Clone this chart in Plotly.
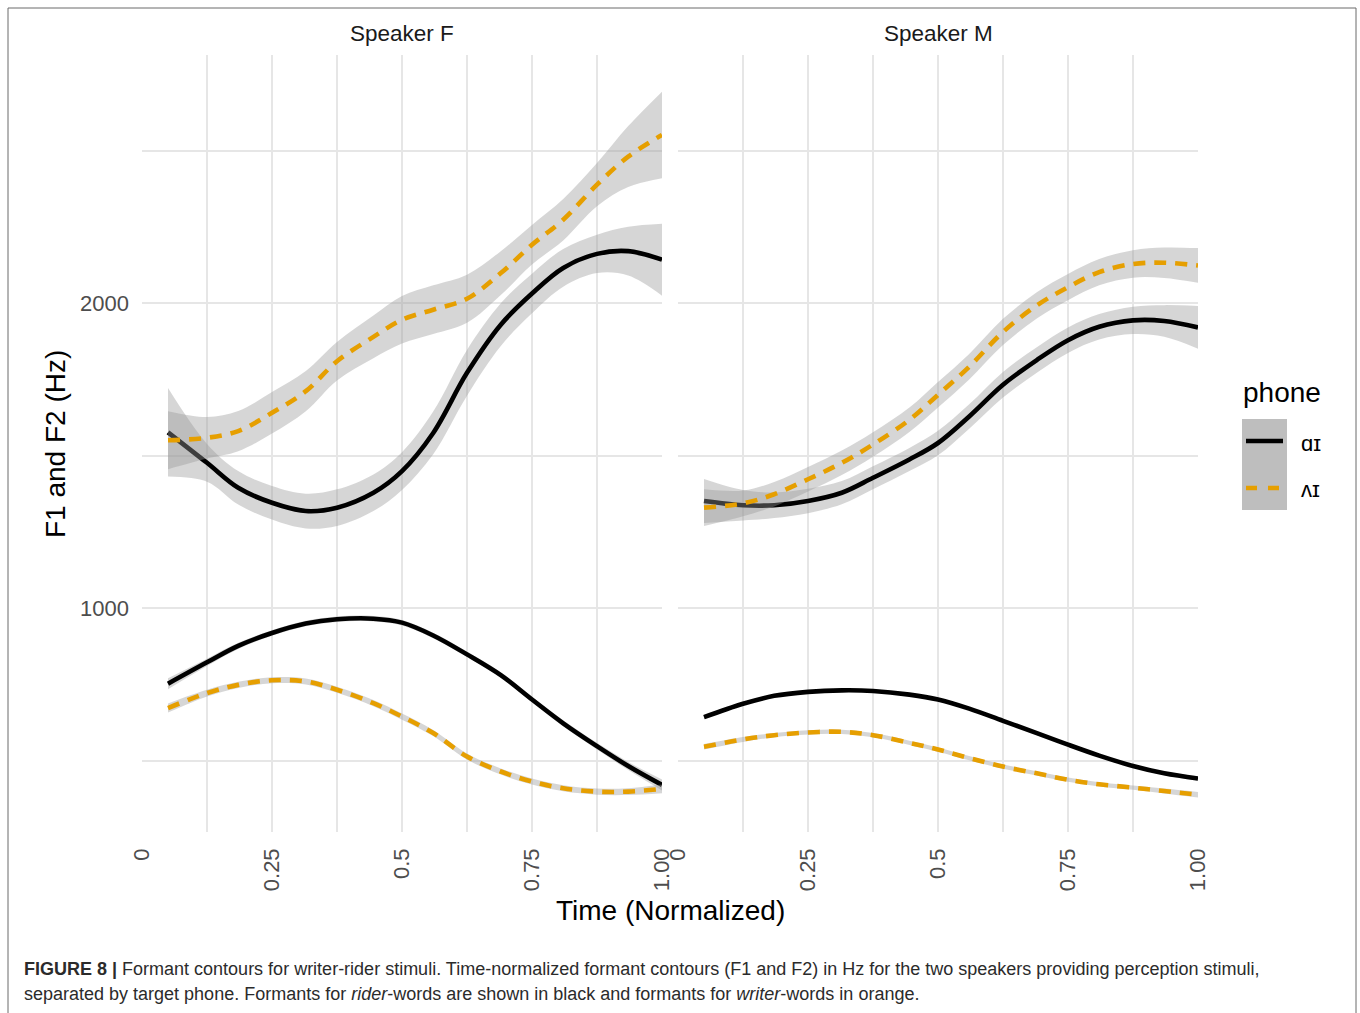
import plotly.graph_objects as go

# ---------------- data ----------------
time = [0.05, 0.125, 0.185, 0.25, 0.315, 0.375, 0.445, 0.5, 0.56, 0.625,
        0.69, 0.75, 0.81, 0.875, 0.935, 1.0]

speakers = ["Speaker F", "Speaker M"]
phones = ["ɑɪ", "ʌɪ"]
phone_colors = ["#000000", "#E69F00"]

# Speaker F
spkF_F2_ai = [1576, 1476, 1394, 1345, 1318, 1329, 1378, 1449, 1574, 1771,
              1929, 2031, 2115, 2161, 2170, 2142]
spkF_F2_ai_se = [145, 62, 55, 55, 57, 60, 60, 62, 70, 75, 70, 65, 62, 63, 80, 118]
spkF_F2_vi = [1550, 1558, 1580, 1640, 1711, 1809, 1889, 1945, 1978, 2014,
              2098, 2191, 2273, 2388, 2480, 2551]
spkF_F2_vi_se = [95, 68, 66, 68, 66, 63, 70, 78, 80, 79, 72, 65, 68, 71, 100, 142]
spkF_F1_ai = [752, 822, 876, 918, 949, 963, 965, 952, 910, 848,
              780, 700, 622, 547, 482, 420]
spkF_F1_ai_se = [18, 12, 10, 9, 9, 9, 9, 9, 9, 9, 9, 9, 10, 11, 13, 18]
spkF_F1_vi = [672, 721, 748, 763, 759, 732, 688, 644, 590, 513,
              464, 431, 409, 398, 398, 407]
spkF_F1_vi_se = [15, 11, 10, 10, 10, 10, 10, 10, 10, 10, 10, 10, 10, 10, 11, 14]

# Speaker M
spkM_F2_ai = [1351, 1337, 1337, 1351, 1378, 1427, 1487, 1541, 1628, 1732,
              1813, 1878, 1922, 1943, 1941, 1920]
spkM_F2_ai_se = [72, 50, 42, 40, 38, 38, 38, 40, 40, 42, 42, 42, 42, 45, 52, 70]
spkM_F2_vi = [1329, 1343, 1373, 1422, 1476, 1536, 1617, 1699, 1791, 1905,
              1992, 2052, 2101, 2128, 2132, 2123]
spkM_F2_vi_se = [60, 42, 40, 40, 40, 40, 40, 42, 42, 43, 43, 43, 43, 45, 50, 57]
spkM_F1_ai = [642, 686, 712, 725, 730, 728, 716, 700, 670, 630,
              590, 552, 516, 482, 458, 441]
spkM_F1_ai_se = [7, 6, 5, 5, 5, 5, 5, 5, 5, 5, 5, 5, 5, 5, 6, 7]
spkM_F1_vi = [545, 569, 583, 592, 594, 583, 558, 536, 508, 480,
              458, 437, 422, 411, 400, 388]
spkM_F1_vi_se = [9, 8, 7, 7, 7, 7, 7, 7, 7, 7, 7, 7, 7, 7, 8, 9]

x_tickvals = [0, 0.125, 0.25, 0.375, 0.5, 0.625, 0.75, 0.875, 1.0]
x_ticktext = ["0", "", "0.25", "", "0.5", "", "0.75", "", "1.00"]
y_tickvals = [500, 1000, 1500, 2000, 2500]
y_ticktext = ["", "1000", "", "2000", ""]

# ---------------- figure ----------------
W, H = 1360, 1013
FONT = "Liberation Sans, Arial, Helvetica, sans-serif"

def px_x(p):
    return p / W

def px_y(p):
    return 1 - p / H

series = [
    # (panel index, phone index, values, se)
    (0, 0, spkF_F2_ai, spkF_F2_ai_se),
    (0, 0, spkF_F1_ai, spkF_F1_ai_se),
    (0, 1, spkF_F2_vi, spkF_F2_vi_se),
    (0, 1, spkF_F1_vi, spkF_F1_vi_se),
    (1, 0, spkM_F2_ai, spkM_F2_ai_se),
    (1, 0, spkM_F1_ai, spkM_F1_ai_se),
    (1, 1, spkM_F2_vi, spkM_F2_vi_se),
    (1, 1, spkM_F1_vi, spkM_F1_vi_se),
]

fig = go.Figure()
RIBBON = "rgba(153,153,153,0.4)"
DASH = "12px,9px"

for panel, ph, vals, se in series:
    xa = "x" if panel == 0 else "x2"
    ya = "y" if panel == 0 else "y2"
    lower = [v - s for v, s in zip(vals, se)]
    upper = [v + s for v, s in zip(vals, se)]
    fig.add_trace(go.Scatter(x=time, y=lower, xaxis=xa, yaxis=ya, mode="lines",
                             line=dict(width=0, shape="spline", smoothing=1),
                             showlegend=False, hoverinfo="skip"))
    fig.add_trace(go.Scatter(x=time, y=upper, xaxis=xa, yaxis=ya, mode="lines",
                             line=dict(width=0, shape="spline", smoothing=1),
                             fill="tonexty", fillcolor=RIBBON,
                             showlegend=False, hoverinfo="skip"))
    fig.add_trace(go.Scatter(x=time, y=vals, xaxis=xa, yaxis=ya, mode="lines",
                             name=phones[ph],
                             line=dict(color=phone_colors[ph], width=4.6,
                                       shape="spline", smoothing=1,
                                       dash="solid" if ph == 0 else DASH),
                             showlegend=False))

y_range = [265.6, 2813.1]
y_dom = [px_y(832), px_y(55)]
grid = "#e6e6e6"

common_x = dict(range=[0, 1], tickvals=x_tickvals, ticktext=x_ticktext,
                tickangle=-90, showgrid=True, gridcolor=grid, gridwidth=1.6,
                zeroline=False, showline=False, ticks="",
                tickfont=dict(family=FONT, size=22, color="#4d4d4d"),
                ticklabelstandoff=11, anchor="y", automargin=False)
fig.update_layout(
    xaxis=dict(domain=[px_x(142), px_x(662)], **common_x),
    xaxis2=dict(domain=[px_x(678), px_x(1198)], **{**common_x, "anchor": "y2"}),
    yaxis=dict(domain=y_dom, range=y_range, tickvals=y_tickvals, ticktext=y_ticktext,
               showgrid=True, gridcolor=grid, gridwidth=1.6, zeroline=False,
               ticks="", tickfont=dict(family=FONT, size=22, color="#4d4d4d"),
               ticklabelstandoff=12, anchor="x", automargin=False),
    yaxis2=dict(domain=y_dom, range=y_range, tickvals=y_tickvals, showticklabels=False,
                showgrid=True, gridcolor=grid, gridwidth=1.6, zeroline=False,
                ticks="", anchor="x2", matches="y", automargin=False),
    width=W, height=H, autosize=False,
    margin=dict(l=0, r=0, t=0, b=0, pad=0),
    paper_bgcolor="white", plot_bgcolor="white",
    showlegend=False,
    font=dict(family=FONT),
)

ann = []
# strip titles
ann.append(dict(text="Speaker F", x=px_x(402), y=px_y(33), xref="paper", yref="paper",
                showarrow=False, font=dict(family=FONT, size=22.5, color="#1a1a1a"),
                xanchor="center", yanchor="middle"))
ann.append(dict(text="Speaker M", x=px_x(938), y=px_y(33), xref="paper", yref="paper",
                showarrow=False, font=dict(family=FONT, size=22.5, color="#1a1a1a"),
                xanchor="center", yanchor="middle"))
# axis titles
ann.append(dict(text="Time (Normalized)", x=px_x(670), y=px_y(910), xref="paper", yref="paper",
                showarrow=False, font=dict(family=FONT, size=28, color="#000000"),
                xanchor="center", yanchor="middle"))
ann.append(dict(text="F1 and F2 (Hz)", x=px_x(55), y=px_y(444), xref="paper", yref="paper",
                showarrow=False, textangle=-90, font=dict(family=FONT, size=28, color="#000000"),
                xanchor="center", yanchor="middle"))
# legend text
ann.append(dict(text="phone", x=px_x(1241), y=px_y(393), xref="paper", yref="paper",
                showarrow=False, font=dict(family=FONT, size=28, color="#000000"),
                xanchor="left", yanchor="middle"))
ann.append(dict(text=phones[0], x=px_x(1299), y=px_y(443), xref="paper", yref="paper",
                showarrow=False, font=dict(family=FONT, size=22, color="#000000"),
                xanchor="left", yanchor="middle"))
ann.append(dict(text=phones[1], x=px_x(1299), y=px_y(489), xref="paper", yref="paper",
                showarrow=False, font=dict(family=FONT, size=22, color="#000000"),
                xanchor="left", yanchor="middle"))
# caption
ann.append(dict(text="<b>FIGURE 8 |</b> Formant contours for writer-rider stimuli. Time-normalized formant "
                     "contours (F1 and F2) in Hz for the two speakers providing perception stimuli,",
                x=px_x(22), y=px_y(969), xref="paper", yref="paper", showarrow=False,
                font=dict(family=FONT, size=18, color="#2b2b2b"),
                xanchor="left", yanchor="middle"))
ann.append(dict(text="separated by target phone. Formants for <i>rider</i>-words are shown in black and "
                     "formants for <i>writer</i>-words in orange.",
                x=px_x(22), y=px_y(994), xref="paper", yref="paper", showarrow=False,
                font=dict(family=FONT, size=18, color="#2b2b2b"),
                xanchor="left", yanchor="middle"))
fig.update_layout(annotations=ann)

shapes = []
# outer border
shapes.append(dict(type="rect", xref="paper", yref="paper",
                   x0=px_x(8), x1=px_x(1356), y0=-0.05, y1=px_y(8),
                   line=dict(color="#6b6b6b", width=1), fillcolor="rgba(0,0,0,0)", layer="above"))
# legend key
shapes.append(dict(type="rect", xref="paper", yref="paper",
                   x0=px_x(1242), x1=px_x(1287), y0=px_y(510), y1=px_y(419),
                   line=dict(width=0), fillcolor="#bebebe", layer="above"))
shapes.append(dict(type="line", xref="paper", yref="paper",
                   x0=px_x(1246), x1=px_x(1283), y0=px_y(441), y1=px_y(441),
                   line=dict(color=phone_colors[0], width=4.6), layer="above"))
shapes.append(dict(type="line", xref="paper", yref="paper",
                   x0=px_x(1246), x1=px_x(1283), y0=px_y(488), y1=px_y(488),
                   line=dict(color=phone_colors[1], width=4.6, dash="11px,11px"), layer="above"))
fig.update_layout(shapes=shapes)

fig.write_html("out.html",
               config={"displayModeBar": False},
               post_script="document.body.style.margin='0';document.body.style.overflow='hidden';")
